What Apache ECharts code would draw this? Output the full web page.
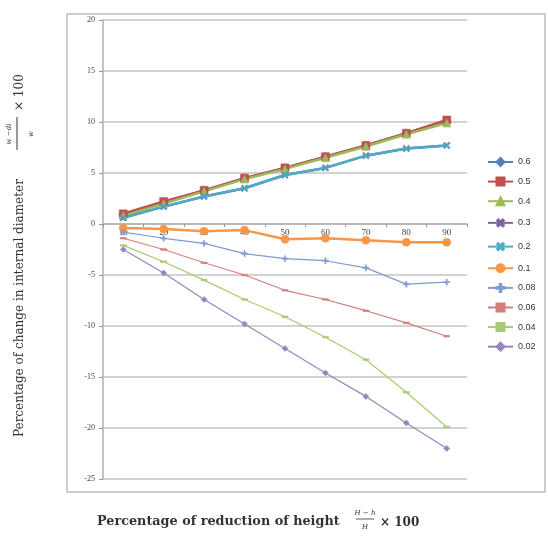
<!DOCTYPE html>
<html>
<head>
<meta charset="utf-8">
<script src="https://cdn.jsdelivr.net/npm/echarts@6/dist/echarts.min.js"></script>
<style>
  html, body { margin: 0; padding: 0; background: #fff; }
  #chart { width: 548px; height: 538px; }
</style>
</head>
<body>
<div id="chart"></div>
<script>
// reduction of height (%)
var categories = ['10', '20', '30', '40', '50', '60', '70', '80', '90'];

// change in internal diameter (%) per friction factor
var s06  = [0.9, 2.1, 3.3, 4.5, 5.5, 6.6, 7.7, 8.9, 10.1];
var s05  = [1.0, 2.2, 3.3, 4.5, 5.5, 6.6, 7.7, 8.9, 10.2];
var s04  = [0.8, 2.0, 3.2, 4.4, 5.4, 6.5, 7.6, 8.8, 9.9];
var s03  = [0.6, 1.7, 2.7, 3.5, 4.8, 5.5, 6.7, 7.4, 7.7];
var s02  = [0.6, 1.7, 2.7, 3.5, 4.8, 5.5, 6.7, 7.4, 7.7];
var s01  = [-0.4, -0.5, -0.7, -0.6, -1.5, -1.4, -1.6, -1.8, -1.8];
var s008 = [-0.8, -1.4, -1.9, -2.9, -3.4, -3.6, -4.3, -5.9, -5.7];
var s006 = [-1.4, -2.5, -3.8, -5.0, -6.5, -7.4, -8.5, -9.7, -11.0];
var s004 = [-2.1, -3.7, -5.5, -7.4, -9.1, -11.1, -13.3, -16.5, -19.9];
var s002 = [-2.5, -4.8, -7.4, -9.8, -12.2, -14.6, -16.9, -19.5, -22.0];

var names = ['0.6', '0.5', '0.4', '0.3', '0.2', '0.1', '0.08', '0.06', '0.04', '0.02'];

var plusPath = 'path://M4,0H6V4H10V6H6V10H4V6H0V4H4Z';

function mk(name, data, color, symbol, size, width, rotate) {
  return {
    name: name,
    type: 'line',
    data: data,
    symbol: symbol,
    symbolSize: size,
    symbolRotate: rotate || 0,
    showSymbol: true,
    lineStyle: { color: color, width: width },
    itemStyle: { color: color, borderColor: color, borderWidth: 0.5 },
    emphasis: { disabled: true }
  };
}

var series = [
  mk('0.6', s06, '#4F81BD', 'diamond', 9, 2.5),
  mk('0.5', s05, '#C0504D', 'rect', 8, 2.5),
  mk('0.4', s04, '#9BBB59', 'triangle', 8, 2.5),
  mk('0.3', s03, '#8064A2', plusPath, 8, 2.5, 45),
  mk('0.2', s02, '#4BACC6', plusPath, 7, 2.5, 45),
  mk('0.1', s01, '#F79646', 'circle', 8, 2.5),
  mk('0.08', s008, '#7E9BD0', plusPath, 6, 1.2),
  mk('0.06', s006, '#D47D7B', 'rect', [6, 1.5], 1.2),
  mk('0.04', s004, '#A7CC6E', 'rect', [6, 1.5], 1.2),
  mk('0.02', s002, '#9A84BE', 'diamond', 6, 1.2)
];

var serif = '"DejaVu Serif", "Liberation Serif", serif';

var chart = echarts.init(document.getElementById('chart'));
chart.setOption({
  animation: false,
  backgroundColor: '#fff',
  grid: { left: 103, right: 81, top: 20, bottom: 59 },
  legend: {
    data: names,
    orient: 'vertical',
    left: 482,
    top: 152,
    itemWidth: 25,
    itemHeight: 10,
    itemGap: 9.6,
    textStyle: { fontSize: 9, color: '#333', fontFamily: 'Arial, "Liberation Sans", sans-serif' }
  },
  xAxis: {
    type: 'category',
    data: categories,
    boundaryGap: true,
    // axis sits on the zero line (Excel style), labels included
    offset: -255,
    axisLine: { onZero: false, lineStyle: { color: '#b0b0b0', width: 1.5 } },
    axisTick: { show: true, length: 3, lineStyle: { color: '#999' } },
    axisLabel: { fontSize: 9, color: '#444', margin: 4, fontFamily: '"Liberation Serif", serif' },
    splitLine: { show: false }
  },
  yAxis: {
    type: 'value',
    min: -25,
    max: 20,
    interval: 5,
    axisLine: { show: true, lineStyle: { color: '#b0b0b0', width: 1.5 } },
    axisTick: { show: true, length: 4, lineStyle: { color: '#999' } },
    axisLabel: { fontSize: 8, color: '#444', margin: 8, fontFamily: '"Liberation Serif", serif' },
    splitLine: { lineStyle: { color: '#c4c4c4', width: 1.5 } }
  },
  graphic: [
    {
      type: 'rect',
      shape: { x: 67, y: 14, width: 478, height: 478 },
      style: { fill: 'none', stroke: '#bdbdbd', lineWidth: 1.5 },
      silent: true
    },
    {
      type: 'group',
      x: 20,
      y: 437,
      rotation: Math.PI / 2,
      children: [
        { type: 'text', x: 0, y: 0, style: { text: 'Percentage of change in internal diameter', font: '12px ' + serif, fill: '#333', verticalAlign: 'middle' } },
        { type: 'text', x: 303, y: -11, style: { text: 'w \u2212di', font: 'italic 7px ' + serif, fill: '#333', align: 'center', verticalAlign: 'middle' } },
        { type: 'line', shape: { x1: 287, y1: -3, x2: 320, y2: -3 }, style: { stroke: '#333', lineWidth: 1 } },
        { type: 'text', x: 303, y: 11, style: { text: 'w', font: 'italic 7px ' + serif, fill: '#333', align: 'center', verticalAlign: 'middle' } },
        { type: 'text', x: 326, y: 0, style: { text: '\u00d7 100', font: '12px ' + serif, fill: '#333', verticalAlign: 'middle' } }
      ]
    },
    {
      type: 'text',
      x: 97,
      y: 522,
      style: { text: 'Percentage of reduction of height', font: 'bold 12.8px ' + serif, fill: '#333', verticalAlign: 'middle' }
    },
    { type: 'text', x: 365, y: 513, style: { text: 'H \u2212 h', font: 'italic 7px ' + serif, fill: '#333', align: 'center', verticalAlign: 'middle' } },
    { type: 'line', shape: { x1: 356, y1: 519, x2: 374, y2: 519 }, style: { stroke: '#333', lineWidth: 0.8 } },
    { type: 'text', x: 365, y: 527, style: { text: 'H', font: 'italic 7px ' + serif, fill: '#333', align: 'center', verticalAlign: 'middle' } },
    { type: 'text', x: 380, y: 523, style: { text: '\u00d7 100', font: 'bold 12px ' + serif, fill: '#333', verticalAlign: 'middle' } }
  ],
  series: series
});
</script>
</body>
</html>
